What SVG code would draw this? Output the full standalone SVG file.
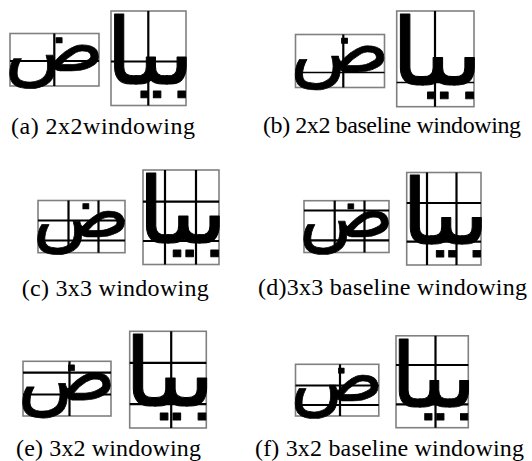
<svg xmlns="http://www.w3.org/2000/svg" width="532" height="461" viewBox="0 0 532 461">
<style>
.box{fill:#fff;stroke:#808080;stroke-width:1.6}
.grid{stroke:#000;stroke-width:2.2;fill:none}
.thin{stroke:#000;stroke-width:1.6;fill:none}
.ar{font-family:"DejaVu Sans",sans-serif;font-size:100px;fill:#000;stroke:#000;stroke-width:1;stroke-linejoin:round;text-anchor:middle}
.cap{font-family:"Liberation Serif","Times New Roman",serif;font-size:24px;fill:#000}
</style>
<rect width="532" height="461" fill="#fff"/>

<!-- (a) -->
<g id="panel-a">
  <g id="a-left">
    <rect class="box" x="10" y="33.5" width="89" height="52.5"/>
    <g transform="translate(10,33.5) scale(0.89,0.525)"><text class="ar" transform="translate(50,70.6) scale(0.93,1.38)">ض</text></g>
    <line class="grid" x1="54.3" y1="33.5" x2="54.3" y2="86"/>
    <line class="grid" x1="10" y1="61" x2="99" y2="61"/>
  </g>
  <g id="a-right">
    <rect class="box" x="111" y="11" width="75" height="94.5"/>
    <g transform="translate(111,11) scale(0.75,0.945)"><text class="ar" transform="translate(52,77.5) scale(1.36,0.98)">بيا</text></g>
    <line class="grid" x1="148.3" y1="11" x2="148.3" y2="105.5"/>
    <line class="grid" x1="111" y1="61.5" x2="186" y2="61.5"/>
  </g>
  <text class="cap" x="11" y="133.5" textLength="184">(a) 2x2windowing</text>
</g>

<!-- (b) -->
<g id="panel-b">
  <g id="b-left">
    <rect class="box" x="295.5" y="34.5" width="89" height="53"/>
    <g transform="translate(295.5,34.5) scale(0.89,0.53)"><text class="ar" transform="translate(50,70.6) scale(0.93,1.38)">ض</text></g>
    <line class="grid" x1="343.3" y1="34.5" x2="343.3" y2="87.5"/>
    <line class="thin" x1="295.5" y1="72.5" x2="384.5" y2="72.5"/>
  </g>
  <g id="b-right">
    <rect class="box" x="396.7" y="11" width="77.3" height="95.7"/>
    <g transform="translate(396.7,11) scale(0.773,0.957)"><text class="ar" transform="translate(52,77.5) scale(1.36,0.98)">بيا</text></g>
    <line class="grid" x1="435" y1="11" x2="435" y2="106.7"/>
    <line class="thin" x1="396.7" y1="82.5" x2="474" y2="82.5"/>
  </g>
  <text class="cap" x="263" y="133" textLength="258">(b) 2x2 baseline windowing</text>
</g>

<!-- (c) -->
<g id="panel-c">
  <g id="c-left">
    <rect class="box" x="38" y="200.5" width="87" height="52.2"/>
    <g transform="translate(38,200.5) scale(0.87,0.522)"><text class="ar" transform="translate(50,70.6) scale(0.93,1.38)">ض</text></g>
    <line class="grid" x1="68.5" y1="200.5" x2="68.5" y2="252.7"/>
    <line class="grid" x1="98.5" y1="200.5" x2="98.5" y2="252.7"/>
    <line class="grid" x1="38" y1="220.5" x2="125" y2="220.5"/>
    <line class="grid" x1="38" y1="240.5" x2="125" y2="240.5"/>
  </g>
  <g id="c-right">
    <rect class="box" x="143" y="170" width="76" height="94.5"/>
    <g transform="translate(143,170) scale(0.76,0.945)"><text class="ar" transform="translate(52,77.5) scale(1.36,0.98)">بيا</text></g>
    <line class="grid" x1="165" y1="170" x2="165" y2="264.5"/>
    <line class="grid" x1="196" y1="170" x2="196" y2="264.5"/>
    <line class="grid" x1="143" y1="201.7" x2="219" y2="201.7"/>
    <line class="grid" x1="143" y1="241" x2="219" y2="241"/>
  </g>
  <text class="cap" x="21.7" y="296" textLength="187">(c) 3x3 windowing</text>
</g>

<!-- (d) -->
<g id="panel-d">
  <g id="d-left">
    <rect class="box" x="304" y="200.7" width="85" height="51.8"/>
    <g transform="translate(304,200.7) scale(0.85,0.518)"><text class="ar" transform="translate(50,70.6) scale(0.93,1.38)">ض</text></g>
    <line class="grid" x1="334.7" y1="200.7" x2="334.7" y2="252.5"/>
    <line class="grid" x1="364.5" y1="200.7" x2="364.5" y2="252.5"/>
    <line class="grid" x1="304" y1="210.5" x2="389" y2="210.5"/>
    <line class="grid" x1="304" y1="240.3" x2="389" y2="240.3"/>
  </g>
  <g id="d-right">
    <rect class="box" x="406.7" y="172.5" width="74.3" height="92.5"/>
    <g transform="translate(406.7,172.5) scale(0.743,0.925)"><text class="ar" transform="translate(52,77.5) scale(1.36,0.98)">بيا</text></g>
    <line class="grid" x1="427" y1="172.5" x2="427" y2="265"/>
    <line class="grid" x1="456.5" y1="172.5" x2="456.5" y2="265"/>
    <line class="grid" x1="406.7" y1="203" x2="481" y2="203"/>
    <line class="grid" x1="406.7" y1="241.7" x2="481" y2="241.7"/>
  </g>
  <text class="cap" x="258" y="295" textLength="269">(d)3x3 baseline windowing</text>
</g>

<!-- (e) -->
<g id="panel-e">
  <g id="e-left">
    <rect class="box" x="23" y="361.3" width="88" height="54.7"/>
    <g transform="translate(23,361.3) scale(0.88,0.547)"><text class="ar" transform="translate(50,70.6) scale(0.93,1.38)">ض</text></g>
    <line class="grid" x1="69.5" y1="361.3" x2="69.5" y2="416"/>
    <line class="grid" x1="23" y1="372.7" x2="111" y2="372.7"/>
    <line class="grid" x1="23" y1="394.5" x2="111" y2="394.5"/>
  </g>
  <g id="e-right">
    <rect class="box" x="129.7" y="331.3" width="76.6" height="96.7"/>
    <g transform="translate(129.7,331.3) scale(0.766,0.967)"><text class="ar" transform="translate(52,77.5) scale(1.36,0.98)">بيا</text></g>
    <line class="grid" x1="171.2" y1="331.3" x2="171.2" y2="428"/>
    <line class="grid" x1="129.7" y1="362.8" x2="206.3" y2="362.8"/>
    <line class="grid" x1="129.7" y1="404.2" x2="206.3" y2="404.2"/>
  </g>
  <text class="cap" x="16" y="456" textLength="185">(e) 3x2 windowing</text>
</g>

<!-- (f) -->
<g id="panel-f">
  <g id="f-left">
    <rect class="box" x="295.5" y="364.3" width="83.3" height="51.7"/>
    <g transform="translate(295.5,364.3) scale(0.833,0.517)"><text class="ar" transform="translate(50,70.6) scale(0.93,1.38)">ض</text></g>
    <line class="grid" x1="340" y1="364.3" x2="340" y2="416"/>
    <line class="grid" x1="295.5" y1="385.5" x2="378.8" y2="385.5"/>
    <line class="grid" x1="295.5" y1="405" x2="378.8" y2="405"/>
  </g>
  <g id="f-right">
    <rect class="box" x="396" y="335.8" width="72.3" height="91.9"/>
    <g transform="translate(396,335.8) scale(0.723,0.919)"><text class="ar" transform="translate(52,77.5) scale(1.36,0.98)">بيا</text></g>
    <line class="grid" x1="435.5" y1="335.8" x2="435.5" y2="427.7"/>
    <line class="grid" x1="396" y1="365" x2="468.3" y2="365"/>
    <line class="grid" x1="396" y1="404.3" x2="468.3" y2="404.3"/>
  </g>
  <text class="cap" x="255" y="456" textLength="269">(f) 3x2 baseline windowing</text>
</g>
</svg>
